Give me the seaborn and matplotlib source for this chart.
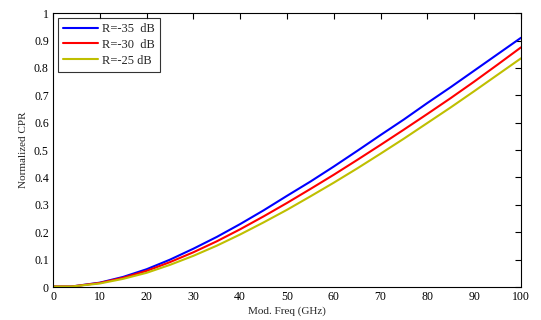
import matplotlib
matplotlib.use('Agg')
import matplotlib.pyplot as plt
import seaborn as sns
import pandas as pd

# Data
freq = [0, 4, 10, 15, 20, 25, 30, 35, 40, 45, 50, 55, 60, 65, 70, 75, 80, 85, 90, 95, 100]
cpr_35 = [0.002, 0.002, 0.016, 0.037, 0.065, 0.100, 0.140, 0.183, 0.230, 0.280, 0.333,
          0.385, 0.440, 0.497, 0.555, 0.612, 0.672, 0.730, 0.790, 0.850, 0.910]
cpr_30 = [0.002, 0.002, 0.015, 0.034, 0.059, 0.091, 0.127, 0.167, 0.211, 0.258, 0.307,
          0.358, 0.410, 0.464, 0.519, 0.575, 0.632, 0.690, 0.750, 0.812, 0.875]
cpr_25 = [0.002, 0.002, 0.013, 0.030, 0.052, 0.081, 0.114, 0.151, 0.192, 0.236, 0.282,
          0.331, 0.381, 0.433, 0.487, 0.542, 0.599, 0.656, 0.715, 0.775, 0.835]
labels = ['R=-35  dB', 'R=-30  dB', 'R=-25 dB']
colors = ['#0000ff', '#ff0000', '#bfbf00']

df = pd.DataFrame({
    'freq': freq * 3,
    'cpr': cpr_35 + cpr_30 + cpr_25,
    'series': [labels[0]] * len(freq) + [labels[1]] * len(freq) + [labels[2]] * len(freq),
})

sns.set_style('white')
plt.rcParams['font.family'] = ['Liberation Serif', 'DejaVu Serif']

fig = plt.figure(figsize=(5.41, 3.2), dpi=100)
ax = fig.add_axes([0.098, 0.103, 0.865, 0.856])

sns.lineplot(data=df, x='freq', y='cpr', hue='series', palette=dict(zip(labels, colors)),
             linewidth=1.5, ax=ax)

ax.set_xlim(0, 100)
ax.set_ylim(0, 1)
ax.set_xticks(range(0, 101, 10))
ax.set_yticks([i / 10 for i in range(11)])
ax.set_yticklabels(['0', '0.1', '0.2', '0.3', '0.4', '0.5', '0.6', '0.7', '0.8', '0.9', '1'])
ax.tick_params(direction='in', length=4, width=0.8, labelsize=8.5, top=True, right=True,
               colors='black', pad=3)
for s in ax.spines.values():
    s.set_color('black')
    s.set_linewidth(0.8)

ax.set_xlabel('Mod. Freq (GHz)', fontsize=8, labelpad=2)
ax.set_ylabel('Normalized CPR', fontsize=8, labelpad=4)

leg = ax.legend(loc='upper left', fontsize=9, frameon=True, fancybox=False,
                edgecolor='black', handlelength=2.8, handletextpad=0.35,
                borderaxespad=0.4, labelspacing=0.3, borderpad=0.4)
leg.get_frame().set_linewidth(0.8)

plt.savefig('out.png', dpi=100, facecolor='white')
plt.close()
